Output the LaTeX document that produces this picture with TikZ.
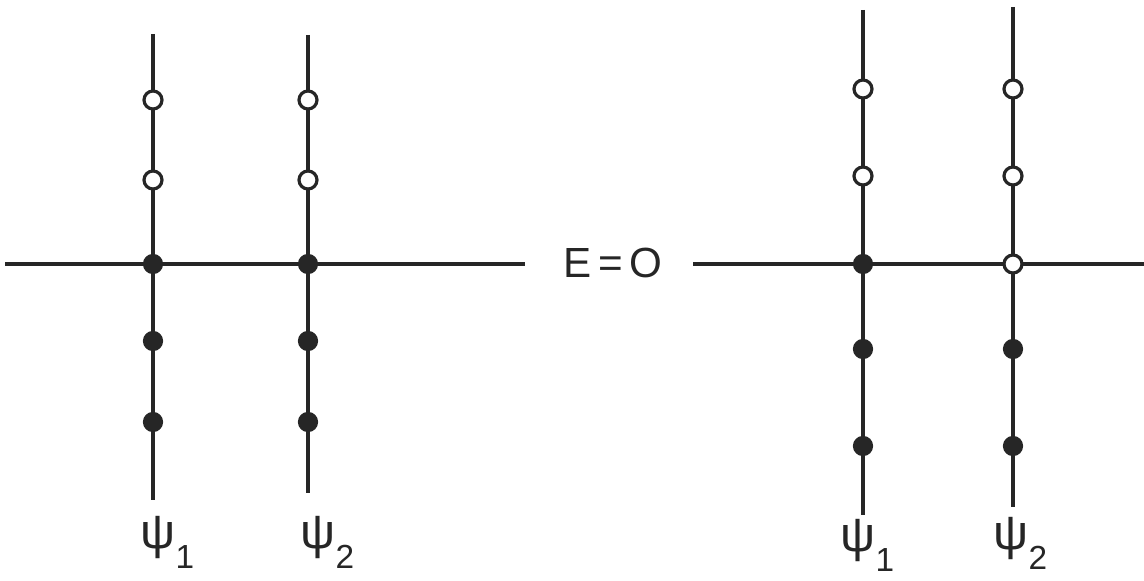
\documentclass[tikz,border=0pt]{standalone}
\usepackage{fontspec}
\setmainfont{Liberation Sans}
\usetikzlibrary{positioning}

\begin{document}
\begin{tikzpicture}[x=0.02cm, y=-0.02cm, line width=1.8pt, black!85,
      empty/.style={circle, draw, fill=white, minimum size=0.36cm, inner sep=0pt},
      full/.style={circle, draw, fill=black!85, minimum size=0.34cm, inner sep=0pt},
      lbl/.style={font=\fontsize{28}{30}\selectfont, inner sep=0pt, anchor=base west}]
    \useasboundingbox (0,0) rectangle (1144,581);
    % energy axis
    \coordinate (al) at (5,264);
    \coordinate (ar) at (525,264);
    \coordinate (bl) at (693,264);
    \coordinate (br) at (1144,264);
    \node[inner sep=0pt, font=\fontsize{24}{26}\selectfont] (e) at (613,263) {E\,=\,O};
    \draw (al) -- (ar);
    \draw (bl) -- (br);
    % left pair
    \coordinate (a1t) at (153,34);  \coordinate (a1b) at (153,500);
    \coordinate (a2t) at (308,35);  \coordinate (a2b) at (308,493);
    \draw (a1t) -- (a1b);
    \draw (a2t) -- (a2b);
    \foreach \x/\n in {153/a1, 308/a2} {
      \node[empty] (\n u2) at (\x,100) {};
      \node[empty] (\n u1) at (\x,180) {};
      \node[full]  (\n z)  at (\x,264) {};
      \node[full]  (\n d1) at (\x,341) {};
      \node[full]  (\n d2) at (\x,422) {};
    }
    \node[lbl] (pa1) at (139,548) {ψ\raisebox{-0.42em}{\fontsize{19}{20}\selectfont 1}};
    \node[lbl] (pa2) at (299,548) {ψ\raisebox{-0.42em}{\fontsize{19}{20}\selectfont 2}};
    % right pair
    \coordinate (b1t) at (863,10);  \coordinate (b1b) at (863,515);
    \coordinate (b2t) at (1013,7);  \coordinate (b2b) at (1013,507);
    \draw (b1t) -- (b1b);
    \draw (b2t) -- (b2b);
    \foreach \x/\n in {863/b1, 1013/b2} {
      \node[empty] (\n u2) at (\x,89)  {};
      \node[empty] (\n u1) at (\x,176) {};
      \node[full]  (\n d1) at (\x,349) {};
      \node[full]  (\n d2) at (\x,446) {};
    }
    \node[full]  (b1z) at (863,264) {};
    \node[empty] (b2z) at (1013,264) {};
    \node[lbl] (pb1) at (839,551) {ψ\raisebox{-0.42em}{\fontsize{19}{20}\selectfont 1}};
    \node[lbl] (pb2) at (992,549) {ψ\raisebox{-0.42em}{\fontsize{19}{20}\selectfont 2}};
\end{tikzpicture}
\end{document}
